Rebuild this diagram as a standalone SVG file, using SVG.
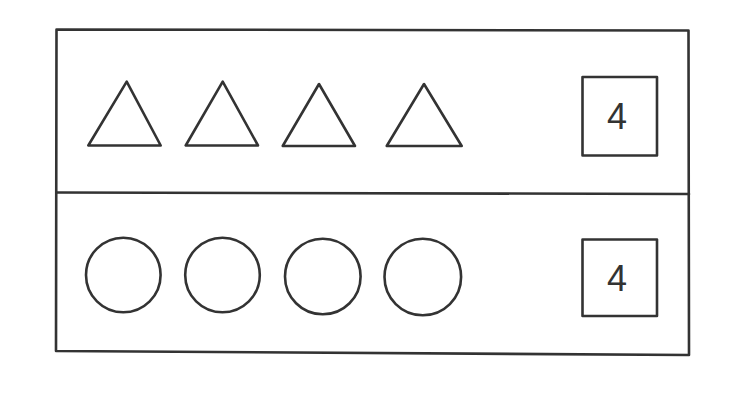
<svg xmlns="http://www.w3.org/2000/svg" width="741" height="416" viewBox="0 0 741 416">
<style>
.ln{fill:none;stroke:#333333;stroke-width:2.6;stroke-linejoin:round;stroke-linecap:round}
.num{font-family:"Liberation Sans",Arial,sans-serif;font-size:36px;fill:#333333;text-anchor:middle}
</style>
<rect width="741" height="416" fill="#ffffff"/>
<g id="frame">
<path class="ln" d="M56.5 29.5 L688.5 30.5 L689 355 L56 351 Z"/>
<path class="ln" d="M56.5 192.5 L689 194"/>
</g>
<g id="row-triangles">
<g id="tri1"><polygon class="ln" points="126.7,81.7 88.3,145.5 160.7,145.5"/></g>
<g id="tri2"><polygon class="ln" points="222.7,81.7 185.7,145.5 258,145.5"/></g>
<g id="tri3"><polygon class="ln" points="319,84 282.7,146 355,146"/></g>
<g id="tri4"><polygon class="ln" points="424,84 386.7,146 461.7,146"/></g>
</g>
<g id="count-top">
<rect class="ln" x="582.5" y="77" width="74.5" height="78.5"/>
<text class="num" x="617" y="128.5">4</text>
</g>
<g id="row-circles">
<g id="circ1"><circle class="ln" cx="123.3" cy="275" r="37.3"/></g>
<g id="circ2"><circle class="ln" cx="222.5" cy="275" r="37.3"/></g>
<g id="circ3"><circle class="ln" cx="322.8" cy="276.5" r="37.8"/></g>
<g id="circ4"><circle class="ln" cx="422.8" cy="277" r="38.3"/></g>
</g>
<g id="count-bottom">
<rect class="ln" x="582.5" y="239.5" width="74.5" height="76.5"/>
<text class="num" x="617" y="291">4</text>
</g>
<g id="connectors"></g>
</svg>
